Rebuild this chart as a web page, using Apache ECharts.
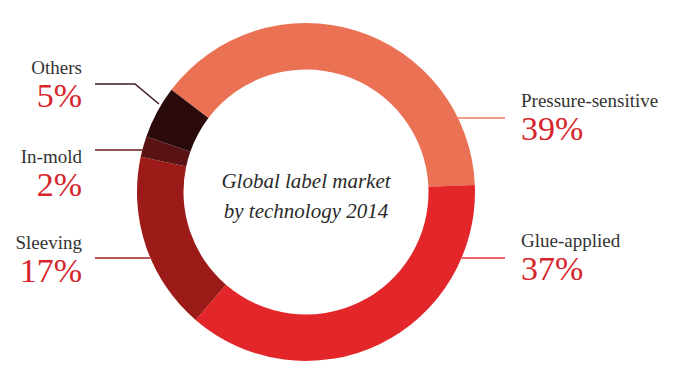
<!DOCTYPE html>
<html>
<head>
<meta charset="utf-8">
<script src="https://cdn.jsdelivr.net/npm/echarts@6/dist/echarts.min.js"></script>
<style>html,body{margin:0;padding:0;background:#fff}#c{width:680px;height:380px}</style>
</head>
<body>
<div id="c"></div>
<script>
// ---- data ----
var categories = ['Pressure-sensitive', 'Glue-applied', 'Sleeving', 'In-mold', 'Others'];
var shares = [39, 37, 17, 2, 5];
var centerTitle = 'Global label market\nby technology 2014';

// ---- styling / layout ----
var colors = ['#EA7153', '#E3262A', '#9C1A17', '#5A1212', '#2B0A0C'];
var lineColors = ['#EC7A5E', '#E53237', '#A3201D', '#6A1A1A', '#3A1A1A'];
var CX = 306, CY = 192, R_OUT = 169, R_IN = 122.5;
// label anchors: side (+1 right, -1 left), text x, block top y, leader line y
var labelCfg = [
  { side: 1, x: 521, top: 89, ly: 118 },
  { side: 1, x: 521, top: 229, ly: 258 },
  { side: -1, x: 82, top: 231, ly: 258 },
  { side: -1, x: 82, top: 145, ly: 150 },
  { side: -1, x: 82, top: 56, ly: 84, elbow: [135, 84], end: [159, 104] }
];
function ringX(y, side) {
  var dy = y - CY;
  return CX + side * Math.sqrt(R_OUT * R_OUT - dy * dy);
}

var chart = echarts.init(document.getElementById('c'), null, { renderer: 'svg' });
var data = categories.map(function (name, i) {
  var cfg = labelCfg[i];
  return {
    name: name,
    value: shares[i],
    itemStyle: { color: colors[i] },
    label: { align: cfg.side > 0 ? 'left' : 'right' },
    labelLine: { lineStyle: { color: lineColors[i], width: 1.5 } }
  };
});

chart.setOption({
  animation: false,
  backgroundColor: '#ffffff',
  graphic: [{
    type: 'text',
    x: CX,
    y: 196,
    style: {
      text: centerTitle,
      fill: '#2a2a2a',
      font: 'italic 21px "Liberation Serif", serif',
      align: 'center',
      verticalAlign: 'middle',
      lineHeight: 30
    }
  }],
  series: [{
    type: 'pie',
    center: [CX, CY],
    radius: [R_IN, R_OUT],
    startAngle: 142.8,
    clockwise: true,
    avoidLabelOverlap: false,
    data: data,
    emphasis: { disabled: true },
    label: {
      show: true,
      position: 'outside',
      formatter: function (p) { return '{n|' + p.name + '}\n{p|' + p.value + '%}'; },
      rich: {
        n: { fontFamily: '"Liberation Serif", serif', fontSize: 19, color: '#333333', lineHeight: 22 },
        p: { fontFamily: '"Liberation Serif", serif', fontSize: 34, color: '#D6262C', lineHeight: 34 }
      }
    },
    labelLine: { show: true, length: 10, length2: 10 },
    labelLayout: function (params) {
      var cfg = labelCfg[params.dataIndex];
      var pts;
      if (cfg.elbow) {
        pts = [cfg.end, cfg.elbow, [95, cfg.ly]];
      } else if (cfg.side > 0) {
        pts = [[ringX(cfg.ly, 1), cfg.ly], [505, cfg.ly]];
      } else {
        pts = [[ringX(cfg.ly, -1), cfg.ly], [95, cfg.ly]];
      }
      return {
        x: cfg.x,
        y: cfg.top,
        align: cfg.side > 0 ? 'left' : 'right',
        verticalAlign: 'top',
        labelLinePoints: pts
      };
    }
  }]
});
</script>
</body>
</html>
